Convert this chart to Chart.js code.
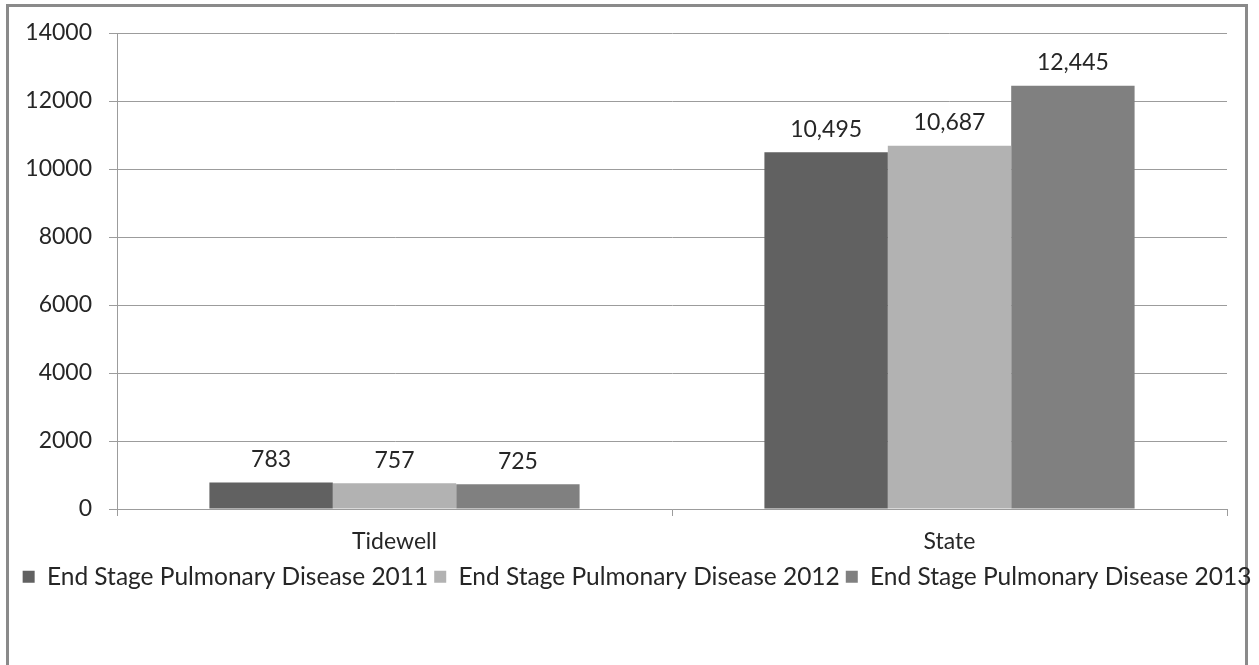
<!DOCTYPE html>
<html>
<head>
<meta charset="utf-8">
<script src="https://cdn.jsdelivr.net/npm/chart.js@4.4.1/dist/chart.umd.min.js"></script>
<style>
  html, body { margin: 0; padding: 0; background: #fff; }
  body { width: 1259px; height: 665px; position: relative; overflow: hidden; }
  .frame { position: absolute; left: 6px; top: 4px; width: 1242px; height: 720px; border: 3px solid #8a8a8a; box-sizing: border-box; }
  #wrap { position: absolute; left: 0; top: 0; width: 1259px; height: 665px; }
</style>
</head>
<body>
<div class="frame"></div>
<div id="wrap"><canvas id="chart" width="1259" height="665"></canvas></div>
<script>
// Regions compared
const categories = ['Tidewell', 'State'];

// Deaths from end stage pulmonary disease, by year
const seriesLabels = [
  'End Stage Pulmonary Disease 2011',
  'End Stage Pulmonary Disease 2012',
  'End Stage Pulmonary Disease 2013'
];
const values2011 = [783, 10495];
const values2012 = [757, 10687];
const values2013 = [725, 12445];
const seriesColors = ['#616161', '#b2b2b2', '#808080'];

// Value axis
const yMin = 0;
const yMax = 14000;
const yStep = 2000;

const FONT = 'Lato, "Open Sans", sans-serif';
const TEXT = '#262626';
const GRID = '#9c9c9c';

// Writes each bar's value above it
const valueLabels = {
  id: 'valueLabels',
  afterDatasetsDraw(chart) {
    const ctx = chart.ctx;
    ctx.save();
    ctx.font = '23px ' + FONT;
    ctx.fillStyle = TEXT;
    ctx.textAlign = 'center';
    ctx.textBaseline = 'middle';
    chart.data.datasets.forEach((ds, di) => {
      chart.getDatasetMeta(di).data.forEach((bar, i) => {
        ctx.fillText(ds.data[i].toLocaleString('en-US'), bar.x, bar.y - 23);
      });
    });
    ctx.restore();
  }
};

const seriesValues = [values2011, values2012, values2013];

new Chart(document.getElementById('chart'), {
  type: 'bar',
  data: {
    labels: categories,
    datasets: seriesLabels.map((label, i) => ({
      label,
      data: seriesValues[i],
      backgroundColor: seriesColors[i],
      borderWidth: 0,
      categoryPercentage: 0.667,
      barPercentage: 1.0
    }))
  },
  options: {
    responsive: false,
    animation: false,
    devicePixelRatio: 1,
    layout: { padding: { top: 33, left: 15, right: 0, bottom: 66 } },
    plugins: {
      title: { display: false },
      tooltip: { enabled: false },
      legend: {
        position: 'bottom',
        labels: {
          font: { family: FONT, size: 24.5 },
          color: TEXT,
          boxWidth: 12,
          boxHeight: 12,
          padding: 6
        }
      }
    },
    scales: {
      x: {
        grid: { display: true, drawOnChartArea: false, drawTicks: true, tickLength: 7, color: GRID, offset: true },
        border: { display: true, color: GRID, width: 1 },
        ticks: { font: { family: FONT, size: 23 }, color: TEXT, padding: 12 },
        afterFit(s) { s.height = 49.5; }
      },
      y: {
        min: yMin,
        max: yMax,
        grid: { color: GRID, lineWidth: 1, tickLength: 8 },
        border: { display: true, color: GRID, width: 1 },
        ticks: { stepSize: yStep, font: { family: FONT, size: 23 }, color: TEXT, padding: 17, callback: v => String(v) },
        afterFit(s) { s.width = 102; }
      },
      gutter: {
        position: 'right',
        display: true,
        grid: { display: false },
        border: { display: false },
        ticks: { display: false },
        afterFit(s) { s.width = 32; }
      }
    }
  },
  plugins: [valueLabels]
});
</script>
</body>
</html>
